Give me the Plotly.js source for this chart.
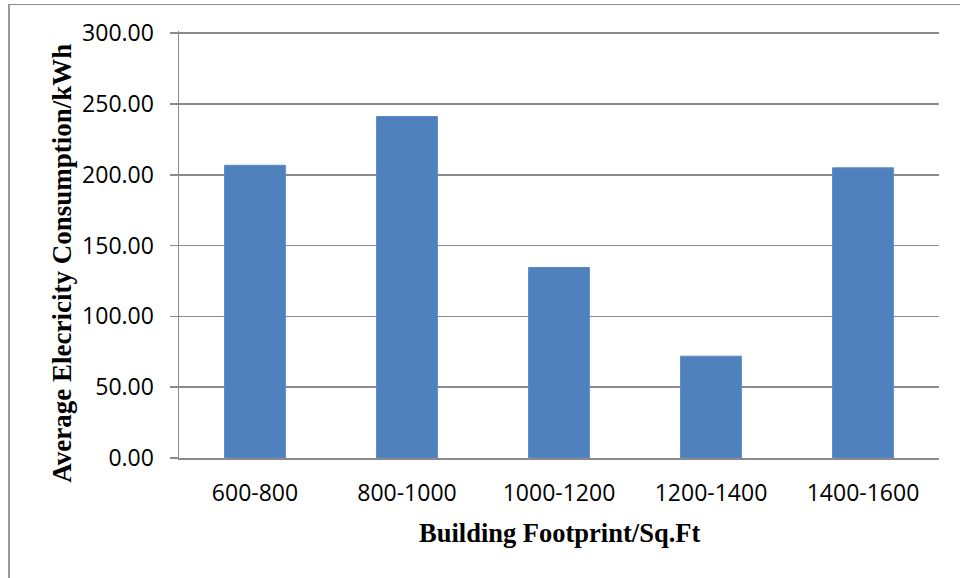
<!DOCTYPE html>
<html>
<head>
<meta charset="utf-8">
<script src="https://cdn.plot.ly/plotly-3.0.1.min.js"></script>
<style>
  html, body { margin: 0; padding: 0; background: #ffffff; }
  #wrap { position: relative; width: 960px; height: 578px; overflow: hidden; }
  #chart { position: absolute; left: 0; top: 0; width: 960px; height: 578px; }
  #frame {
    position: absolute; left: 8px; top: 4px; width: 960px; height: 600px;
    border-top: 1px solid #8c8c8c; border-left: 2px solid #9a9a9a;
    pointer-events: none;
  }
</style>
</head>
<body>
<div id="wrap">
  <div id="chart"></div>
  <div id="frame"></div>
</div>
<script>
// Average electricity consumption by building footprint band
const footprintBands = ['600-800', '800-1000', '1000-1200', '1200-1400', '1400-1600'];
const avgConsumption = [206.7, 241.1, 134.5, 71.9, 204.9];
const yTickValues = [0, 50, 100, 150, 200, 250, 300];

const xTitle = 'Building Footprint/Sq.Ft';
const yTitle = 'Average Elecricity Consumption/kWh';

const barTrace = {
  type: 'bar',
  x: footprintBands,
  y: avgConsumption,
  marker: { color: '#4f81bd', line: { color: '#5a8ac4', width: 1 } },
  hoverinfo: 'x+y'
};

const gridGrey = '#8a8a8a';
const tickFont = { family: 'Open Sans, sans-serif', size: 23, color: '#000000' };
const titleFont = { family: 'Liberation Serif, Times New Roman, serif', size: 27, color: '#000000', weight: 'bold' };

// A little headroom above 300 keeps the top gridline from being clipped at the edge
const layout = {
  width: 960,
  height: 578,
  margin: { l: 179, r: 21, t: 31.4, b: 119.6, pad: 0 },
  paper_bgcolor: '#ffffff',
  plot_bgcolor: '#ffffff',
  showlegend: false,
  bargap: 0.6,
  xaxis: {
    type: 'category',
    showgrid: false,
    showline: true,
    linecolor: gridGrey,
    linewidth: 1.5,
    ticks: '',
    tickfont: tickFont,
    ticklabelstandoff: 14,
    zeroline: false,
    fixedrange: true
  },
  yaxis: {
    range: [0, 301.5],
    tickvals: yTickValues,
    tickformat: '.2f',
    showgrid: true,
    gridcolor: gridGrey,
    gridwidth: 1.5,
    showline: true,
    linecolor: gridGrey,
    linewidth: 1.5,
    ticks: 'outside',
    ticklen: 8,
    tickwidth: 1.5,
    tickcolor: gridGrey,
    tickfont: tickFont,
    ticklabelstandoff: 11,
    zeroline: false,
    fixedrange: true
  },
  annotations: [
    {
      text: xTitle,
      xref: 'paper', yref: 'paper',
      x: 0.5, y: -0.175,
      xanchor: 'center', yanchor: 'middle',
      showarrow: false,
      font: Object.assign({}, titleFont, { size: 26.5 })
    },
    {
      text: yTitle,
      xref: 'paper', yref: 'paper',
      x: -0.1544, y: 0.4565,
      xanchor: 'center', yanchor: 'middle',
      textangle: -90,
      showarrow: false,
      font: titleFont
    }
  ]
};

Plotly.newPlot('chart', [barTrace], layout, { displayModeBar: false, staticPlot: true });
</script>
</body>
</html>
